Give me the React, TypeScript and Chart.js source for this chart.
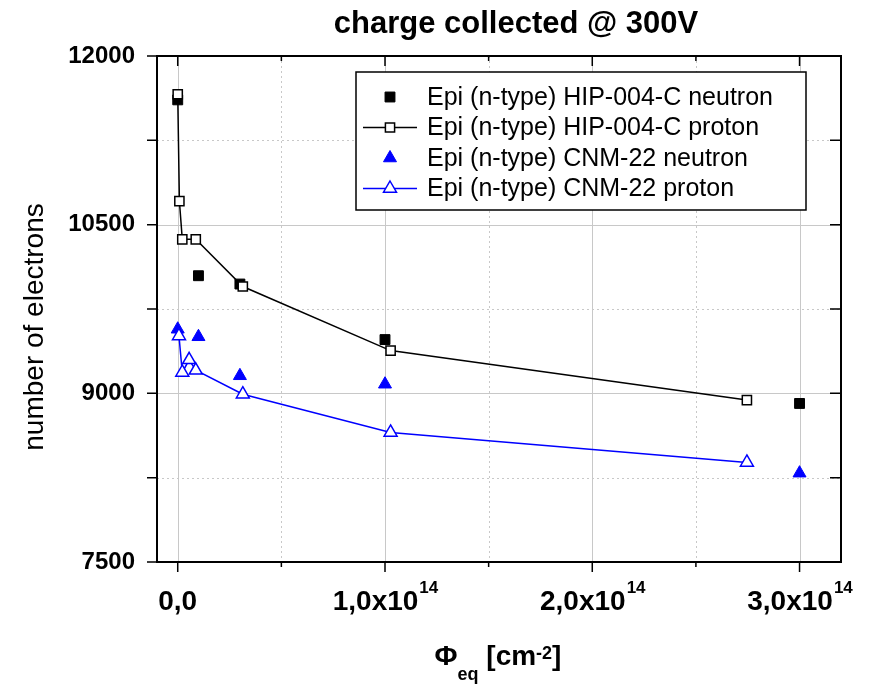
import React, { useEffect, useRef } from 'react';
import { Chart, registerables } from 'chart.js';

Chart.register(...registerables);

// ---------- data ----------
const hipNeutronX = [0, 0.1e14, 0.3e14, 1.0e14, 3.0e14];
const hipNeutronY = [11610, 10046, 9972, 9478, 8910];

const hipProtonX = [0, 0.008e14, 0.022e14, 0.087e14, 0.314e14, 1.027e14, 2.746e14];
const hipProtonY = [11660, 10710, 10370, 10370, 9950, 9380, 8940];

const cnmNeutronX = [0, 0.1e14, 0.3e14, 1.0e14, 3.0e14];
const cnmNeutronY = [9570, 9503, 9156, 9081, 8290];

const cnmProtonX = [0.006e14, 0.022e14, 0.055e14, 0.087e14, 0.314e14, 1.027e14, 2.746e14];
const cnmProtonY = [9510, 9186, 9298, 9205, 8992, 8652, 8385];

const seriesLabels = [
  'Epi (n-type) HIP-004-C neutron',
  'Epi (n-type) HIP-004-C proton',
  'Epi (n-type) CNM-22 neutron',
  'Epi (n-type) CNM-22 proton',
];

const xTickValues = [0, 1e14, 2e14, 3e14];
const xTickMantissas = ['0,0', '1,0x10', '2,0x10', '3,0x10'];
const xTickExponents = ['', '14', '14', '14'];
const yTickValues = [7500, 9000, 10500, 12000];

const titleText = 'charge collected @ 300V';
const yTitleText = 'number of electrons';

const FONT = 'Arial, "Liberation Sans", Helvetica, sans-serif';
const BLUE = '#0000ff';

function pts(xs: number[], ys: number[]) {
  return xs.map((x, i) => ({ x, y: ys[i] }));
}

function drawMarker(ctx: CanvasRenderingContext2D, style: string, cx: number, cy: number, r: number, fill: string, stroke: string, lw: number) {
  ctx.beginPath();
  if (style === 'rect') {
    const s = r * Math.SQRT1_2;
    ctx.rect(cx - s, cy - s, 2 * s, 2 * s);
  } else {
    ctx.moveTo(cx, cy - r);
    ctx.lineTo(cx + r * 0.866, cy + r / 2);
    ctx.lineTo(cx - r * 0.866, cy + r / 2);
    ctx.closePath();
  }
  ctx.fillStyle = fill;
  ctx.fill();
  ctx.lineWidth = lw;
  ctx.strokeStyle = stroke;
  ctx.stroke();
}

const decor = {
  id: 'decor',
  beforeDatasetsDraw(chart: any) {
    const { ctx, chartArea: a, scales } = chart;
    const x = scales.x, y = scales.y;
    ctx.save();
    ctx.strokeStyle = '#c8c8c8';
    ctx.lineWidth = 1;
    for (let k = 0; k <= 6; k++) {
      const v = k * 0.5e14;
      const px = Math.round(x.getPixelForValue(v)) + 0.5;
      ctx.setLineDash(k % 2 === 0 ? [] : [2, 3]);
      ctx.beginPath();
      ctx.moveTo(px, a.top);
      ctx.lineTo(px, a.bottom);
      ctx.stroke();
    }
    for (let k = 1; k < 6; k++) {
      const v = 7500 + k * 750;
      const py = Math.round(y.getPixelForValue(v)) + 0.5;
      ctx.setLineDash(k % 2 === 0 ? [] : [2, 3]);
      ctx.beginPath();
      ctx.moveTo(a.left, py);
      ctx.lineTo(a.right, py);
      ctx.stroke();
    }
    ctx.restore();
  },
  afterDatasetsDraw(chart: any) {
    const { ctx, chartArea: a, scales } = chart;
    const x = scales.x, y = scales.y;
    ctx.save();
    ctx.setLineDash([]);
    ctx.strokeStyle = '#000';
    // ticks
    ctx.lineWidth = 1.5;
    for (let k = 0; k <= 6; k++) {
      const v = k * 0.5e14;
      const px = x.getPixelForValue(v);
      const len = k % 2 === 0 ? 10 : 5;
      ctx.beginPath();
      ctx.moveTo(px, a.bottom);
      ctx.lineTo(px, a.bottom + len);
      ctx.moveTo(px, a.top);
      ctx.lineTo(px, a.top + len);
      ctx.stroke();
    }
    for (let k = 0; k <= 6; k++) {
      const v = 7500 + k * 750;
      const py = y.getPixelForValue(v);
      ctx.beginPath();
      ctx.moveTo(a.left - 10, py);
      ctx.lineTo(a.left, py);
      ctx.moveTo(a.right - 11, py);
      ctx.lineTo(a.right, py);
      ctx.stroke();
    }
    // frame
    ctx.lineWidth = 2;
    ctx.strokeRect(a.left, a.top, a.right - a.left, a.bottom - a.top);

    // legend
    const lx = 356, ly = 72, lw = 450, lh = 138;
    ctx.fillStyle = '#fff';
    ctx.fillRect(lx, ly, lw, lh);
    ctx.lineWidth = 1.5;
    ctx.strokeStyle = '#000';
    ctx.strokeRect(lx, ly, lw, lh);
    const ds = chart.data.datasets;
    const rowY = [97, 127.5, 158, 188.5];
    ctx.font = `25px ${FONT}`;
    ctx.textBaseline = 'middle';
    ctx.textAlign = 'left';
    for (let i = 0; i < ds.length; i++) {
      const d = ds[i];
      const cy = rowY[i];
      if (d.showLine) {
        ctx.beginPath();
        ctx.strokeStyle = d.borderColor;
        ctx.lineWidth = 1.5;
        ctx.moveTo(363, cy);
        ctx.lineTo(417, cy);
        ctx.stroke();
      }
      drawMarker(ctx, d.pointStyle, 390, cy, d.pointRadius, d.pointBackgroundColor, d.pointBorderColor, d.pointBorderWidth);
      ctx.fillStyle = '#000';
      ctx.fillText(d.label, 427, cy + 1);
    }
    ctx.restore();
  },
  afterDraw(chart: any) {
    const { ctx, scales } = chart;
    const x = scales.x;
    ctx.save();
    ctx.fillStyle = '#000';
    // title
    ctx.font = `bold 31px ${FONT}`;
    ctx.textAlign = 'center';
    ctx.textBaseline = 'alphabetic';
    ctx.fillText(titleText, 516, 33);

    // x tick labels
    ctx.textAlign = 'left';
    for (let i = 0; i < xTickValues.length; i++) {
      const px = x.getPixelForValue(xTickValues[i]);
      ctx.font = `bold 28px ${FONT}`;
      const wm = ctx.measureText(xTickMantissas[i]).width;
      ctx.font = `bold 17px ${FONT}`;
      const we = xTickExponents[i] ? ctx.measureText(xTickExponents[i]).width : 0;
      const start = px - (wm + we) / 2;
      ctx.font = `bold 28px ${FONT}`;
      ctx.fillText(xTickMantissas[i], start, 610);
      if (we) {
        ctx.font = `bold 17px ${FONT}`;
        ctx.fillText(xTickExponents[i], start + wm + 1, 593);
      }
    }

    // x title: Φ_eq [cm^-2]
    const parts: [string, number, number][] = [
      ['\u03A6', 28, 665],
      ['eq', 18, 680],
      [' [cm', 28, 665],
      ['-2', 18, 659],
      [']', 28, 665],
    ];
    let total = 0;
    const widths: number[] = [];
    for (const [t, s] of parts) {
      ctx.font = `bold ${s}px ${FONT}`;
      const w = ctx.measureText(t).width;
      widths.push(w);
      total += w;
    }
    let cx = 498 - total / 2;
    parts.forEach(([t, s, b], i) => {
      ctx.font = `bold ${s}px ${FONT}`;
      ctx.fillText(t, cx, b);
      cx += widths[i];
    });

    // y title
    ctx.translate(43, 327);
    ctx.rotate(-Math.PI / 2);
    ctx.textAlign = 'center';
    ctx.font = `28px ${FONT}`;
    ctx.fillText(yTitleText, 0, 0);
    ctx.restore();
  },
};

export default function App() {
  const ref = useRef<HTMLCanvasElement | null>(null);
  useEffect(() => {
    if (!ref.current) return;
    const chart = new Chart(ref.current, {
      type: 'scatter',
      data: {
        datasets: [
          {
            label: seriesLabels[0],
            data: pts(hipNeutronX, hipNeutronY),
            showLine: false,
            pointStyle: 'rect',
            pointRadius: 7,
            pointBackgroundColor: '#000',
            pointBorderColor: '#000',
            pointBorderWidth: 1,
            borderColor: '#000',
            order: 2,
          },
          {
            label: seriesLabels[1],
            data: pts(hipProtonX, hipProtonY),
            showLine: true,
            borderColor: '#000',
            borderWidth: 1.5,
            pointStyle: 'rect',
            pointRadius: 6.5,
            pointBackgroundColor: '#fff',
            pointBorderColor: '#000',
            pointBorderWidth: 1.5,
            tension: 0,
            order: 1,
          },
          {
            label: seriesLabels[2],
            data: pts(cnmNeutronX, cnmNeutronY),
            showLine: false,
            pointStyle: 'triangle',
            pointRadius: 7.5,
            pointBackgroundColor: BLUE,
            pointBorderColor: BLUE,
            pointBorderWidth: 1,
            borderColor: BLUE,
            order: 2,
          },
          {
            label: seriesLabels[3],
            data: pts(cnmProtonX, cnmProtonY),
            showLine: true,
            borderColor: BLUE,
            borderWidth: 1.5,
            pointStyle: 'triangle',
            pointRadius: 7.5,
            pointBackgroundColor: '#fff',
            pointBorderColor: BLUE,
            pointBorderWidth: 1.5,
            tension: 0,
            order: 1,
          },
        ] as any,
      },
      options: {
        responsive: false,
        animation: false,
        events: [],
        layout: { padding: { left: 0, top: 56, right: 32, bottom: 0 } },
        plugins: {
          legend: { display: false },
          title: { display: false },
          tooltip: { enabled: false },
        },
        scales: {
          x: {
            type: 'linear',
            min: -1e13,
            max: 3.2e14,
            grid: { display: false },
            border: { display: false },
            ticks: { display: false },
            afterFit: (s: any) => { s.height = 123; },
          },
          y: {
            type: 'linear',
            min: 7500,
            max: 12000,
            grid: { display: false },
            border: { display: false },
            afterBuildTicks: (s: any) => { s.ticks = yTickValues.map((v) => ({ value: v })); },
            ticks: {
              padding: 14,
              color: '#000',
              font: { family: FONT, size: 24, weight: 'bold' },
              callback: (v: any) => String(v),
            },
            afterFit: (s: any) => { s.width = 157; },
          },
        },
      } as any,
      plugins: [decor],
    });
    return () => chart.destroy();
  }, []);
  return (
    <div style={{ position: 'fixed', left: 0, top: 0, width: 873, height: 685, background: '#fff' }}>
      <canvas ref={ref} width={873} height={685} style={{ width: 873, height: 685 }} />
    </div>
  );
}
